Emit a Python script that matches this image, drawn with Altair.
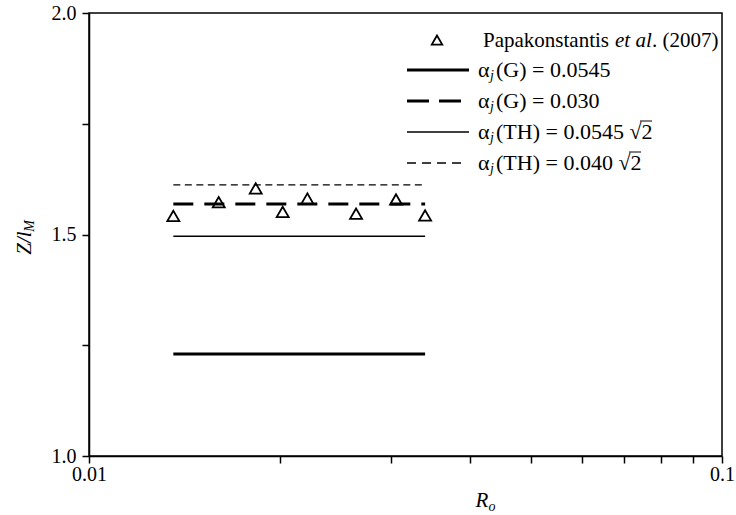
import altair as alt
import pandas as pd

# Experimental data (Papakonstantis et al. 2007)
ro_exp = [0.01359, 0.01603, 0.01834, 0.02023, 0.02213, 0.02642, 0.03055, 0.03396]
z_exp = [1.542, 1.573, 1.604, 1.551, 1.581, 1.547, 1.579, 1.543]

# Model predictions (constant over R_o range)
ro_range = [0.01359, 0.03396]
z_g_0545 = 1.230
z_g_030 = 1.569
z_th_0545 = 1.496
z_th_040 = 1.612

x_ticks = [0.01, 0.02, 0.03, 0.04, 0.05, 0.06, 0.07, 0.08, 0.09, 0.1]
y_ticks = [1.0, 1.25, 1.5, 1.75, 2.0]

FONT = "Liberation Serif"
FS = 20    # tick labels
LFS = 21   # legend text (first row)
AFS = 22   # legend text (alpha rows)
SFS = 14   # subscripts

exp_df = pd.DataFrame({"Ro": ro_exp, "Z": z_exp})

def line_df(z):
    return pd.DataFrame({"Ro": ro_range, "Z": [z, z]})

xscale = alt.Scale(type="log", domain=[0.01, 0.1])
yscale = alt.Scale(domain=[1.0, 2.0])

xenc = alt.X("Ro:Q", scale=xscale, axis=alt.Axis(
    values=x_ticks, title=None, grid=False, tickSize=7,
    labelExpr="datum.value == 0.01 ? '0.01' : (datum.value == 0.1 ? '0.1' : '')",
    labelFont=FONT, labelFontSize=FS, labelColor="black", labelPadding=1,
    domainColor="black", tickColor="black", domainWidth=1.5, tickWidth=1.5,
    labelFlush=False))
yenc = alt.Y("Z:Q", scale=yscale, axis=alt.Axis(
    values=y_ticks, title=None, grid=False, tickSize=7,
    labelExpr="datum.value == 1.25 || datum.value == 1.75 ? '' : format(datum.value, '.1f')",
    labelFont=FONT, labelFontSize=FS, labelColor="black", labelPadding=6,
    domainColor="black", tickColor="black", domainWidth=1.5, tickWidth=1.5))

pts = alt.Chart(exp_df).mark_point(shape="triangle-up", filled=False, color="black",
                                   size=144, strokeWidth=1.8, opacity=1).encode(x=xenc, y=yenc)

def model_line(z, width, dash=None):
    kw = dict(color="black", strokeWidth=width)
    if dash:
        kw["strokeDash"] = dash
    return alt.Chart(line_df(z)).mark_line(**kw).encode(x=alt.X("Ro:Q", scale=xscale),
                                                        y=alt.Y("Z:Q", scale=yscale))

l1 = model_line(z_g_0545, 3)
l2 = model_line(z_g_030, 3, [20, 11])
l3 = model_line(z_th_0545, 1.3)
l4 = model_line(z_th_040, 1.3, [7, 4.5])

# ---------- manual legend (pixel positions inside plot area; plot origin at 89,13) ----------
anchor = pd.DataFrame({"a": [0]})
OX, OY = 89, 13

def txt(x, y, s, size=LFS, italic=False, angle=0, align="left"):
    kw = dict(text=s, font=FONT, fontSize=size, color="black", align=align, baseline="middle")
    if italic:
        kw["fontStyle"] = "italic"
    if angle:
        kw["angle"] = angle
    return alt.Chart(anchor).mark_text(**kw).encode(x=alt.value(x - OX), y=alt.value(y - OY))

def lrule(x0, x1, y, width, dash=None):
    kw = dict(color="black", strokeWidth=width)
    if dash:
        kw["strokeDash"] = dash
    return alt.Chart(anchor).mark_rule(**kw).encode(
        x=alt.value(x0 - OX), x2=alt.value(x1 - OX), y=alt.value(y - OY))

row_y = [41, 70, 101, 132, 163]
leg = [
    alt.Chart(anchor).mark_point(shape="triangle-up", filled=False, color="black",
                                 size=110, strokeWidth=1.8, opacity=1).encode(
        x=alt.value(437 - OX), y=alt.value(row_y[0] - 1 - OY)),
    txt(483, row_y[0], "Papakonstantis"),
    txt(615, row_y[0], "et al", italic=True),
    txt(652, row_y[0], ". (2007)"),
    lrule(407, 469, row_y[1], 3),
    lrule(407, 461, row_y[2], 3, [22, 10]),
    lrule(407, 469, row_y[3], 1.3),
    lrule(407, 461, row_y[4], 1.3, [9, 6]),
]
labels = ["(G) = 0.0545", "(G) = 0.030", "(TH) = 0.0545 √2", "(TH) = 0.040 √2"]
for i, s in enumerate(labels):
    y = row_y[i + 1]
    leg.append(txt(478, y, "α", size=AFS))
    leg.append(txt(490, y + 6, "j", size=SFS, italic=True))
    leg.append(txt(496, y, s, size=AFS))
# overbars of the square roots
for x2s, y in [(641, row_y[3]), (630, row_y[4])]:
    leg.append(lrule(x2s - 1, x2s + 11, y - 11, 1))

# axis titles
titles = [
    txt(25, 243, "Z/l", size=LFS, italic=True, angle=270, align="center"),
    txt(30, 226, "M", size=SFS, italic=True, angle=270, align="center"),
    txt(482, 501, "R", size=LFS, italic=True, align="center"),
    txt(492, 507, "o", size=SFS, italic=True, align="center"),
]

chart = alt.layer(l1, l2, l3, l4, pts, *leg, *titles).properties(
    width=633, height=443,
    padding={"left": OX, "top": OY, "right": 14, "bottom": 59},
    autosize=alt.AutoSizeParams(type="none"),
).configure_view(stroke="black", strokeWidth=1.5)

chart.save("out.html", embed_options={"renderer": "svg", "actions": False})
